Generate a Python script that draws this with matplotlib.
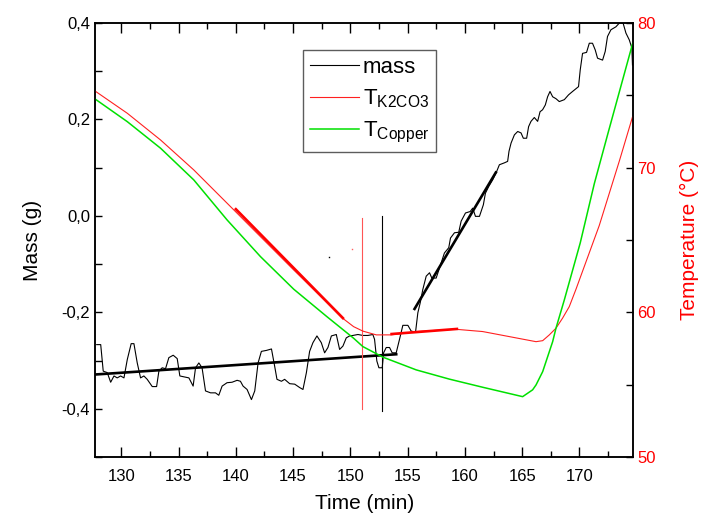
import numpy as np
import matplotlib.pyplot as plt
from matplotlib.ticker import MultipleLocator, FuncFormatter
from matplotlib.lines import Line2D

plt.rcParams['font.family'] = ['Liberation Sans', 'DejaVu Sans']
plt.rcParams['mathtext.fontset'] = 'custom'
plt.rcParams['mathtext.rm'] = 'Liberation Sans'
plt.rcParams['mathtext.it'] = 'Liberation Sans'

# mass signal (min, g)
t_mass = [127.85, 128.2, 128.42, 128.77, 129.07, 129.36, 129.64, 129.94, 130.23, 130.52,
          130.86, 131.1, 131.39, 131.68, 131.97, 132.26, 132.7, 133.08, 133.28, 133.57,
          133.86, 134.15, 134.53, 134.88, 135.11, 135.52, 135.9, 136.27, 136.48, 136.77,
          137.05, 137.35, 137.79, 138.22, 138.51, 138.8, 139.23, 139.67, 140.11, 140.4,
          140.63, 140.98, 141.36, 141.65, 141.94, 142.23, 142.67, 143.11, 143.39, 143.59,
          143.98, 144.26, 144.7, 145.14, 145.57, 145.86, 146.16, 146.44, 146.73, 147.08,
          147.46, 147.75, 148.04, 148.34, 148.77, 149.06, 149.35, 149.64, 149.93, 150.22,
          150.66, 151.09, 151.53, 151.96, 152.11, 152.31, 152.49, 152.78, 152.9, 153.13,
          153.42, 153.65, 154.0, 154.29, 154.58, 155.02, 155.31, 155.69, 155.89, 156.1,
          156.32, 156.62, 156.91, 157.11, 157.49, 157.78, 158.21, 158.59, 158.74, 159.09,
          159.46, 159.67, 160.05, 160.46, 160.68, 160.92, 161.27, 161.61, 161.79, 162.08,
          162.43, 162.77, 163.01, 163.45, 163.73, 163.85, 164.03, 164.32, 164.61, 164.9,
          165.1, 165.39, 165.56, 165.77, 166.06, 166.35, 166.56, 166.78, 167.02, 167.22,
          167.43, 167.66, 167.95, 168.24, 168.68, 169.05, 169.4, 169.92, 170.07, 170.27,
          170.62, 170.86, 171.14, 171.38, 171.58, 172.02, 172.25, 172.45, 172.75, 173.18,
          173.53, 173.82, 174.06, 174.35, 174.58, 174.63]
mass = [-0.267, -0.267, -0.322, -0.325, -0.345, -0.332, -0.336, -0.332, -0.336, -0.298,
        -0.265, -0.265, -0.305, -0.336, -0.332, -0.339, -0.354, -0.354, -0.322, -0.315,
        -0.317, -0.294, -0.289, -0.296, -0.332, -0.334, -0.336, -0.353, -0.315, -0.305,
        -0.315, -0.363, -0.367, -0.367, -0.372, -0.353, -0.346, -0.345, -0.341, -0.343,
        -0.353, -0.360, -0.381, -0.363, -0.305, -0.281, -0.279, -0.276, -0.312, -0.339,
        -0.343, -0.339, -0.348, -0.349, -0.356, -0.360, -0.325, -0.281, -0.263, -0.249,
        -0.263, -0.284, -0.273, -0.249, -0.246, -0.277, -0.270, -0.253, -0.249, -0.248,
        -0.246, -0.248, -0.248, -0.246, -0.256, -0.301, -0.315, -0.315, -0.284, -0.273,
        -0.273, -0.284, -0.284, -0.256, -0.227, -0.227, -0.239, -0.241, -0.201, -0.180,
        -0.153, -0.125, -0.118, -0.129, -0.129, -0.108, -0.077, -0.066, -0.046, -0.035,
        -0.034, -0.011, 0.006, 0.009, 0.016, -0.001, -0.001, 0.023, 0.047, 0.061,
        0.075, 0.092, 0.106, 0.110, 0.113, 0.134, 0.151, 0.168, 0.175, 0.172,
        0.161, 0.161, 0.185, 0.196, 0.204, 0.196, 0.216, 0.220, 0.230, 0.247,
        0.258, 0.247, 0.243, 0.237, 0.241, 0.251, 0.258, 0.268, 0.303, 0.337,
        0.339, 0.358, 0.358, 0.344, 0.327, 0.323, 0.341, 0.372, 0.386, 0.392,
        0.401, 0.399, 0.379, 0.365, 0.348, 0.313]

# temperatures (min, degC)
t_k2co3 = [127.7, 130.52, 133.43, 136.33, 139.82, 142.15, 145.05, 147.95, 149.26, 150.28,
           151.09, 152.26, 153.57, 155.75, 159.17, 161.55, 163.88, 166.21, 166.79, 167.37,
           167.95, 168.53, 169.11, 169.7, 171.73, 173.5, 174.63]
T_k2co3 = [75.3, 73.76, 71.91, 69.84, 67.08, 65.23, 62.93, 60.67, 59.63, 59.01,
           58.7, 58.44, 58.44, 58.67, 58.83, 58.67, 58.32, 57.97, 58.04, 58.44,
           58.9, 59.6, 60.39, 61.6, 66.0, 70.5, 73.5]
t_copper = [127.61, 130.52, 133.43, 136.33, 139.23, 142.15, 145.05, 147.95, 150.28, 151.09,
            152.84, 155.75, 158.65, 161.55, 165.04, 165.91, 166.21, 166.79, 167.66, 167.95,
            168.68, 170.07, 171.3, 172.5, 174.58, 174.65]
T_copper = [74.8, 73.18, 71.34, 69.15, 66.39, 63.85, 61.6, 59.7, 58.21, 57.63,
            56.9, 56.02, 55.38, 54.82, 54.17, 54.64, 54.98, 55.9, 57.97, 58.9,
            60.86, 64.8, 68.9, 72.4, 78.4, 78.6]

# fitted lines / markers
fit1_t, fit1_m = [127.7, 154.0], [-0.329, -0.287]
fit2_t, fit2_m = [155.6, 162.7], [-0.193, 0.090]
redfit1_t, redfit1_T = [140.0, 149.35], [67.13, 59.6]
redfit2_t, redfit2_T = [153.6, 159.3], [58.5, 58.85]
vline_red_t, vline_red_m = 151.05, [-0.401, -0.004]
vline_blk_t, vline_blk_m = 152.75, [-0.405, -0.001]

fig = plt.figure(figsize=(7.02, 5.2), dpi=100)
ax = fig.add_axes([0.1353, 0.1212, 0.7668, 0.8346])
ax2 = ax.twinx()

ax.plot(t_mass, mass, color='black', lw=0.8)
ax.plot(fit1_t, fit1_m, color='black', lw=1.9)
ax.plot(fit2_t, fit2_m, color='black', lw=1.9)
ax.plot([vline_red_t, vline_red_t], vline_red_m, color='#ff5555', lw=0.8)
ax.plot([vline_blk_t, vline_blk_t], vline_blk_m, color='black', lw=0.8)
ax.plot([148.13], [-0.085], 's', color='black', ms=1, mew=0)

ax2.plot(t_k2co3, T_k2co3, color='#ff2020', lw=0.8)
ax2.plot(t_copper, T_copper, color='#00e000', lw=1.1)
ax2.plot(redfit1_t, redfit1_T, color='#ff0000', lw=1.9)
ax2.plot(redfit2_t, redfit2_T, color='#ff0000', lw=1.9)
ax2.plot([150.17], [64.36], 's', color='#ff6060', ms=1, mew=0)

ax.set_xlim(127.7, 174.7)
ax.set_ylim(-0.5, 0.4)
ax2.set_ylim(50, 80)

ax.xaxis.set_major_locator(MultipleLocator(5))
ax.xaxis.set_minor_locator(MultipleLocator(2.5))
ax.yaxis.set_major_locator(MultipleLocator(0.2))
ax.yaxis.set_minor_locator(MultipleLocator(0.1))
ax2.yaxis.set_major_locator(MultipleLocator(10))
ax2.yaxis.set_minor_locator(MultipleLocator(5))


def comma(v, p):
    if abs(v) < 1e-9:
        v = 0.0
    return f'{v:.1f}'.replace('.', ',')


ax.yaxis.set_major_formatter(FuncFormatter(comma))

ax.tick_params(axis='x', which='both', direction='in', top=True, labelsize=12, pad=9)
ax.tick_params(axis='x', which='major', length=7, width=1)
ax.tick_params(axis='x', which='minor', length=4, width=1)
ax.tick_params(axis='y', which='both', direction='in', right=False, length=5, width=1,
               labelsize=12)
ax2.tick_params(axis='y', which='both', direction='in', length=5, width=1,
                labelsize=12, labelcolor='red', pad=3)

for a in (ax, ax2):
    for s in a.spines.values():
        s.set_linewidth(1.1)

ax.set_xlabel('Time (min)', fontsize=15, labelpad=7)
ax.set_ylabel('Mass (g)', fontsize=15, labelpad=14)
ax2.set_ylabel('Temperature (°C)', fontsize=15, color='red', labelpad=17)

handles = [Line2D([], [], color='black', lw=0.8),
           Line2D([], [], color='#ff2020', lw=0.8),
           Line2D([], [], color='#00e000', lw=1.1)]
labels = ['mass', r'T$_{\mathrm{K2CO3}}$', r'T$_{\mathrm{Copper}}$']
leg = ax2.legend(handles, labels, loc='upper left', bbox_to_anchor=(0.4316, 0.9038),
                 bbox_transform=fig.transFigure, borderaxespad=0, fontsize=16,
                 frameon=True, fancybox=False, handlelength=2.2, handletextpad=0.2,
                 borderpad=0.3, labelspacing=0.45)
leg.get_frame().set_edgecolor('#333333')
leg.get_frame().set_linewidth(1.0)

fig.savefig('out.png', dpi=100)
